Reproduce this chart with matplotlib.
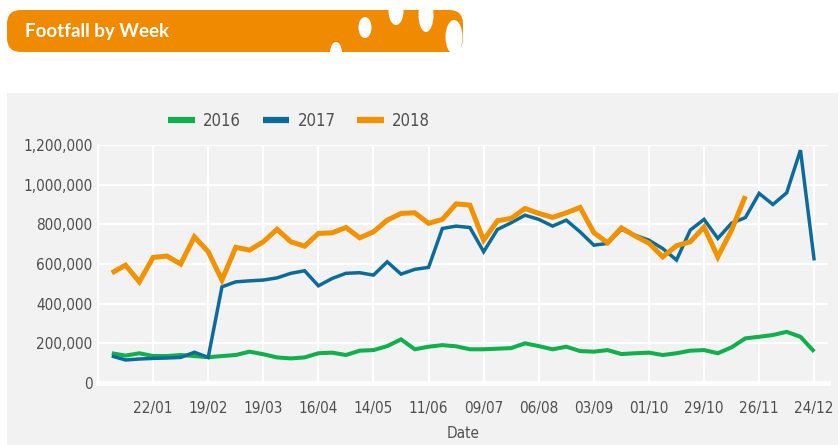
import matplotlib
matplotlib.use("Agg")
import matplotlib.pyplot as plt
import matplotlib.patches as mpatches
import matplotlib.dates as mdates
from matplotlib import font_manager
import pandas as pd

# weekly footfall, week starting Mondays
weeks = pd.date_range("2018-01-01", periods=52, freq="7D")

footfall_2016 = [150000, 138000, 150000, 136000, 136000, 141000, 136000, 130000, 136000, 141000,
                 158000, 145000, 129000, 124000, 129000, 150000, 153000, 141000, 163000, 166000,
                 186000, 220000, 170000, 183000, 191000, 185000, 170000, 170000, 173000, 176000,
                 200000, 186000, 170000, 183000, 161000, 158000, 166000, 146000, 150000, 153000,
                 141000, 150000, 163000, 166000, 150000, 180000, 225000, 233000, 242000, 258000,
                 233000, 158000]
footfall_2017 = [136000, 116000, 121000, 124000, 126000, 129000, 155000, 129000, 485000, 510000,
                 515000, 519000, 530000, 553000, 566000, 490000, 527000, 553000, 556000, 544000,
                 611000, 549000, 573000, 583000, 779000, 791000, 784000, 662000, 774000, 808000,
                 846000, 825000, 791000, 821000, 762000, 695000, 704000, 775000, 745000, 720000,
                 678000, 620000, 771000, 825000, 729000, 806000, 834000, 956000, 900000, 959000,
                 1174000, 618000]
footfall_2018 = [555000, 594000, 510000, 633000, 640000, 600000, 737000, 662000, 519000, 684000,
                 670000, 712000, 775000, 712000, 690000, 754000, 757000, 784000, 732000, 762000,
                 821000, 855000, 858000, 805000, 825000, 903000, 897000, 720000, 818000, 830000,
                 880000, 855000, 835000, 858000, 885000, 758000, 707000, 782000, 741000, 705000,
                 636000, 692000, 712000, 786000, 636000, 771000, 942000]

series = [("2016", footfall_2016, "#10b04c", 2.9),
          ("2017", footfall_2017, "#0b6c9b", 2.5),
          ("2018", footfall_2018, "#f39200", 3.6)]

title = "Footfall by Week"
txt = "#4f4f4f"

# condensed font for the axis text
narrow = font_manager.FontProperties(family="DejaVu Sans", stretch="condensed", size=11)

fig = plt.figure(figsize=(8.4, 4.45), dpi=100)

# pixel overlay for banner and panel
bg = fig.add_axes([0, 0, 1, 1])
bg.set_xlim(0, 840)
bg.set_ylim(445, 0)
bg.axis("off")
bg.add_patch(mpatches.Rectangle((7, 93), 831, 352, color="#f2f2f2", lw=0))
bg.add_patch(mpatches.FancyBboxPatch((7, 10), 456, 42, boxstyle="round,pad=0,rounding_size=14",
                                     color="#f08a00", lw=0))
for cx, cy, w, h in [(365, 27.5, 13, 21), (396, 11, 15, 28), (426, 15, 15, 34),
                     (454, 37, 17, 34), (336, 53, 12, 22)]:
    bg.add_patch(mpatches.Ellipse((cx, cy), w, h, color="white", lw=0))
bg.text(25, 32, title, color="white", fontsize=13.5, fontweight="bold",
        family="Lato", va="center", ha="left")

ax = fig.add_axes([98 / 840, 1 - 383 / 445, 730 / 840, 238 / 445])
ax.set_facecolor("#f2f2f2")

for name, vals, col, lw in series:
    ax.plot(weeks[:len(vals)], vals, color=col, lw=lw, label=name,
            solid_joinstyle="miter", solid_capstyle="butt")

ax.set_ylim(0, 1200000)
ax.set_yticks(range(0, 1200001, 200000))
ax.yaxis.set_major_formatter(matplotlib.ticker.FuncFormatter(lambda v, p: f"{int(v):,}"))
ax.set_xlim(weeks[0] - pd.Timedelta(days=7), weeks[-1] + pd.Timedelta(days=7))
ax.set_xticks(weeks[3::4])
ax.xaxis.set_major_formatter(mdates.DateFormatter("%d/%m"))

ax.grid(True, color="white", lw=1.6)
ax.set_axisbelow(True)
for s in ["top", "right"]:
    ax.spines[s].set_visible(False)
ax.spines["left"].set_color("white")
ax.spines["left"].set_linewidth(1.6)
ax.spines["bottom"].set_color("white")
ax.spines["bottom"].set_linewidth(3.5)
ax.tick_params(length=0, labelcolor=txt)
ax.tick_params(axis="x", pad=13)
ax.tick_params(axis="y", pad=4)
for lab in ax.get_xticklabels() + ax.get_yticklabels():
    lab.set_fontproperties(narrow)
ax.set_xlabel("Date", color=txt, fontproperties=narrow, labelpad=7)

leg_font = narrow.copy()
leg_font.set_size(12)
leg = fig.legend(loc="center", bbox_to_anchor=(299 / 840, 1 - 121 / 445), ncol=3,
                 frameon=False, handlelength=1.6, columnspacing=1.3, handletextpad=0.5,
                 prop=leg_font)
for t in leg.get_texts():
    t.set_color(txt)
for h in leg.get_lines():
    h.set_linewidth(4.5)

fig.savefig("out.png", dpi=100, facecolor="white")
